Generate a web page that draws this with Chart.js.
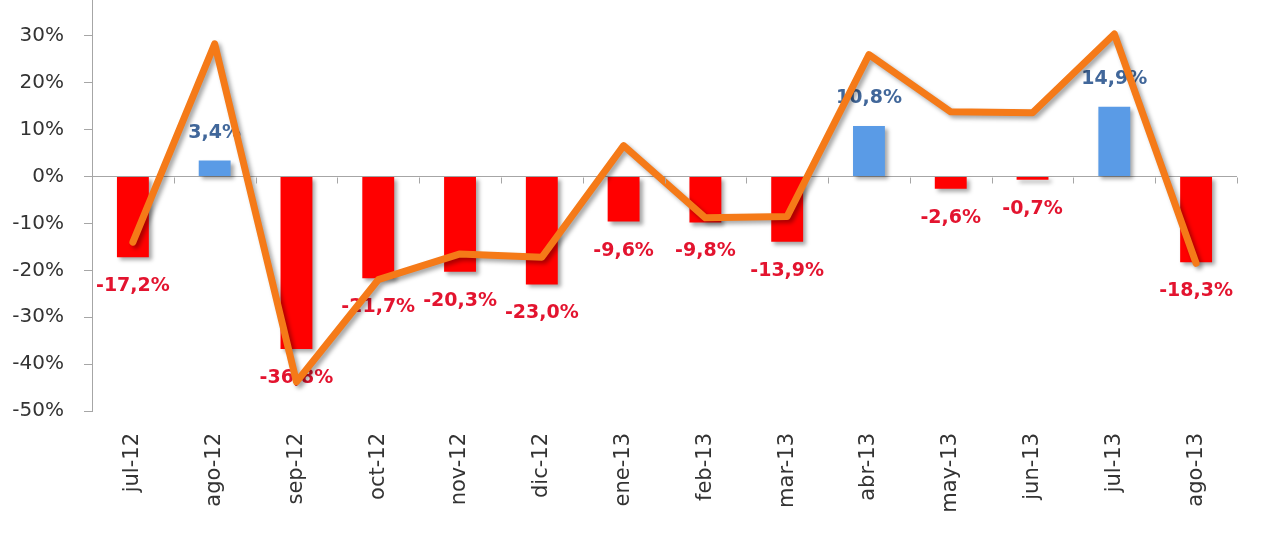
<!DOCTYPE html>
<html>
<head>
<meta charset="utf-8">
<script src="https://cdn.jsdelivr.net/npm/chart.js@4.4.1/dist/chart.umd.min.js"></script>
<style>
  html, body { margin:0; padding:0; background:#fff; }
  #wrap { position:relative; width:1280px; height:544px; overflow:hidden; }
  #wrap canvas { position:absolute; left:0; top:-43px; }
</style>
</head>
<body>
<div id="wrap"><canvas id="chart" width="1280" height="587"></canvas></div>
<script>
// months on the x axis
const meses = ['jul-12','ago-12','sep-12','oct-12','nov-12','dic-12','ene-13','feb-13','mar-13','abr-13','may-13','jun-13','jul-13','ago-13'];
// bar series (labelled values)
const variacion = [-17.2, 3.4, -36.8, -21.7, -20.3, -23.0, -9.6, -9.8, -13.9, 10.8, -2.6, -0.7, 14.9, -18.3];
// orange line series
const linea = [-14, 28.3, -43.8, -22, -16.5, -17.2, 6.6, -8.8, -8.5, 26, 13.8, 13.6, 30.4, -18.5];
// y ticks
const yMin = -50, yMax = 40, yStep = 10;

const RED = '#ff0000', BLUE = '#5a9be6';
const RED_TXT = '#e3142f', BLUE_TXT = '#41679a';
const AXIS = '#a6a6a6';

// drop shadow for bars and line
const shadowPlugin = {
  id:'shadow',
  beforeDatasetDraw(chart, args){
    const ctx = chart.ctx;
    ctx.save();
    ctx.shadowColor = 'rgba(0,0,0,0.35)';
    ctx.shadowBlur = 4;
    ctx.shadowOffsetX = 3;
    ctx.shadowOffsetY = 3;
  },
  afterDatasetDraw(chart, args){
    chart.ctx.restore();
    if(args.index !== 0) return;
    // value labels of the bars
    const ctx = chart.ctx;
    const meta = chart.getDatasetMeta(0);
    ctx.save();
    ctx.font = 'bold 19px "DejaVu Sans"';
    ctx.textAlign = 'center';
    ctx.textBaseline = 'middle';
    meta.data.forEach((el,i)=>{
      const v = variacion[i];
      const txt = v.toFixed(1).replace('.',',') + '%';
      ctx.fillStyle = v<0 ? RED_TXT : BLUE_TXT;
      ctx.fillText(txt, el.x, v<0 ? el.y+29 : el.y-28);
    });
    ctx.restore();
  }
};

// zero line tick marks at category boundaries
const zeroTicks = {
  id:'zeroTicks',
  afterDraw(chart){
    const x = chart.scales.x, y = chart.scales.y;
    const y0 = Math.round(y.getPixelForValue(0)) + 0.5;
    const ctx = chart.ctx;
    ctx.save();
    ctx.strokeStyle = AXIS;
    ctx.lineWidth = 1;
    const w = (x.right - x.left) / meses.length;
    ctx.beginPath();
    for(let i=1;i<=meses.length;i++){
      const px = Math.round(x.left + i*w) + 0.5;
      ctx.moveTo(px, y0); ctx.lineTo(px, y0+6);
    }
    ctx.stroke();
    ctx.restore();
  }
};

new Chart(document.getElementById('chart'), {
  data:{
    labels: meses,
    datasets:[
      { type:'bar', data:variacion, order:2,
        backgroundColor: variacion.map(v=>v<0?RED:BLUE),
        barPercentage:0.39, categoryPercentage:1 },
      { type:'line', data:linea, order:1,
        borderColor:'#f57a18', borderWidth:7, pointRadius:0,
        borderJoinStyle:'round', borderCapStyle:'round', tension:0, fill:false }
    ]
  },
  options:{
    responsive:false,
    animation:false,
    layout:{ padding:{ top:18, right:43, left:0, bottom:0 } },
    plugins:{ legend:{ display:false }, tooltip:{ enabled:false } },
    scales:{
      x:{
        grid:{ display:false },
        border:{ display:false },
        ticks:{ autoSkip:false, minRotation:90, maxRotation:90, padding:14,
          color:'#333', font:{ family:'"DejaVu Sans"', size:21 } },
        afterFit(s){ s.height = 133; }
      },
      y:{
        min:yMin, max:yMax,
        grid:{
          color: c => c.tick.value===0 ? AXIS : 'rgba(0,0,0,0)',
          tickColor: AXIS, tickLength:8, drawTicks:true
        },
        border:{ color:AXIS },
        ticks:{ stepSize:yStep, padding:20, color:'#333',
          font:{ family:'"DejaVu Sans"', size:20 },
          callback: v => v + '%' },
        afterFit(s){ s.width = 92; }
      }
    }
  },
  plugins:[shadowPlugin, zeroTicks]
});
</script>
</body>
</html>
